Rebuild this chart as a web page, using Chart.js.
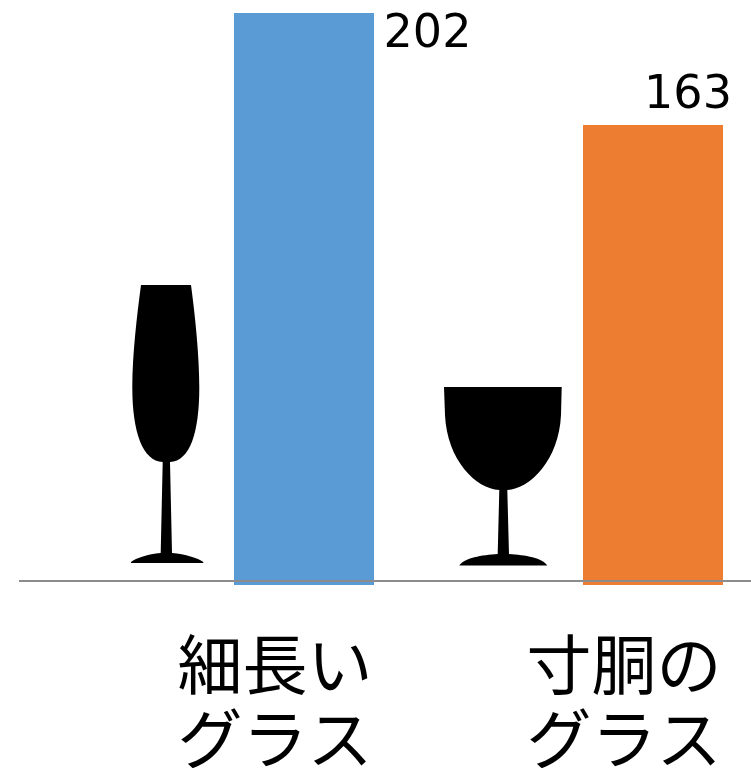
<!DOCTYPE html>
<html lang="ja">
<head>
<meta charset="utf-8">
<style>
  html, body { margin: 0; padding: 0; background: #fff; }
  canvas { display: block; }
</style>
<script src="https://cdn.jsdelivr.net/npm/chart.js@4/dist/chart.umd.min.js"></script>
</head>
<body>
<canvas id="chart" width="751" height="768"></canvas>
<script>
const categories = [["細長い", "グラス"], ["寸胴の", "グラス"]];
const values = [202, 163];
const barColors = ["#5B9BD5", "#ED7D31"];

// The grey rule sits a little above the feet of the bars.
const ruleValue = 4.18;
const barFootValue = 2.8;

// Glass silhouettes, in pixels relative to each bar's centre on the grey rule.
const glassShapes = [
  "M-163 -296 L-113 -296 C-109 -266 -104.7 -226 -104.7 -194 C-104.7 -148 -114 -120 -134 -119 L-132 -28 C-119 -27 -106 -23 -100.7 -19 L-100.7 -18 L-173 -18 L-173 -19 C-168 -23 -156 -27 -143.3 -28 L-141.3 -119 C-161 -120 -171.7 -148 -171.7 -194 C-171.7 -226 -167 -266 -163 -296 Z",
  "M-209 -194 L-91.3 -194 L-92 -166 C-94 -121 -123 -92 -145.7 -91 L-144 -27 C-128 -26 -110 -23 -105.7 -15.5 L-193.7 -15.5 C-189 -23 -171 -26 -155.3 -27 L-153.7 -91 C-177 -92 -206 -121 -208 -166 Z"
];

// Where each value label's centre and baseline sit relative to its bar's top centre.
const valueLabelOffsets = [{ dx: 123.5, dy: 34 }, { dx: 35, dy: -17 }];

const glassPlugin = {
  id: "glasses",
  beforeDatasetsDraw(chart) {
    const { ctx, scales } = chart;
    const rule = scales.y.getPixelForValue(ruleValue);
    chart.getDatasetMeta(0).data.forEach((bar, i) => {
      ctx.save();
      ctx.translate(bar.x, rule);
      ctx.filter = "blur(0.6px)";
      ctx.fillStyle = "#000";
      ctx.fill(new Path2D(glassShapes[i]));
      ctx.restore();
    });
  }
};

const valueLabelPlugin = {
  id: "valueLabels",
  afterDatasetsDraw(chart) {
    const { ctx } = chart;
    ctx.save();
    ctx.font = '46px "DejaVu Sans"';
    ctx.fillStyle = "#000";
    ctx.textAlign = "center";
    ctx.textBaseline = "alphabetic";
    chart.getDatasetMeta(0).data.forEach((bar, i) => {
      const o = valueLabelOffsets[i];
      ctx.fillText(String(values[i]), bar.x + o.dx, bar.y + o.dy);
    });
    ctx.restore();
  }
};

new Chart(document.getElementById("chart"), {
  type: "bar",
  data: {
    datasets: [{
      data: values.map((v, i) => ({ x: i, y: v })),
      backgroundColor: barColors,
      barThickness: 140,
      borderWidth: 0,
      inflateAmount: 0,
      base: barFootValue
    }]
  },
  options: {
    responsive: false,
    animation: false,
    layout: { padding: { left: 19, right: 0, top: 0, bottom: 0 } },
    plugins: { legend: { display: false }, tooltip: { enabled: false } },
    scales: {
      x: {
        type: "linear",
        offset: false,
        min: -0.8166,
        max: 1.2808,
        border: { display: false },
        grid: { display: false },
        afterBuildTicks(scale) { scale.ticks = categories.map((_, i) => ({ value: i })); },
        afterFit(scale) {
          scale.height = 178;
          scale.paddingLeft = 0;
          scale.paddingRight = 0;
        },
        ticks: {
          autoSkip: false,
          maxRotation: 0,
          padding: 29,
          labelOffset: -29,
          color: "#000",
          font: { family: '"Noto Sans CJK JP"', size: 65, lineHeight: 1.14 },
          callback: (value) => categories[value]
        }
      },
      y: {
        min: 1.04,
        max: 206.5,
        border: { display: false },
        afterBuildTicks(scale) { scale.ticks = [{ value: ruleValue }]; },
        afterFit(scale) { scale.width = 0; },
        ticks: { display: false },
        grid: { z: 1, color: "#8C8C8C", lineWidth: 2, drawTicks: false }
      }
    }
  },
  plugins: [glassPlugin, valueLabelPlugin]
});
</script>
</body>
</html>
